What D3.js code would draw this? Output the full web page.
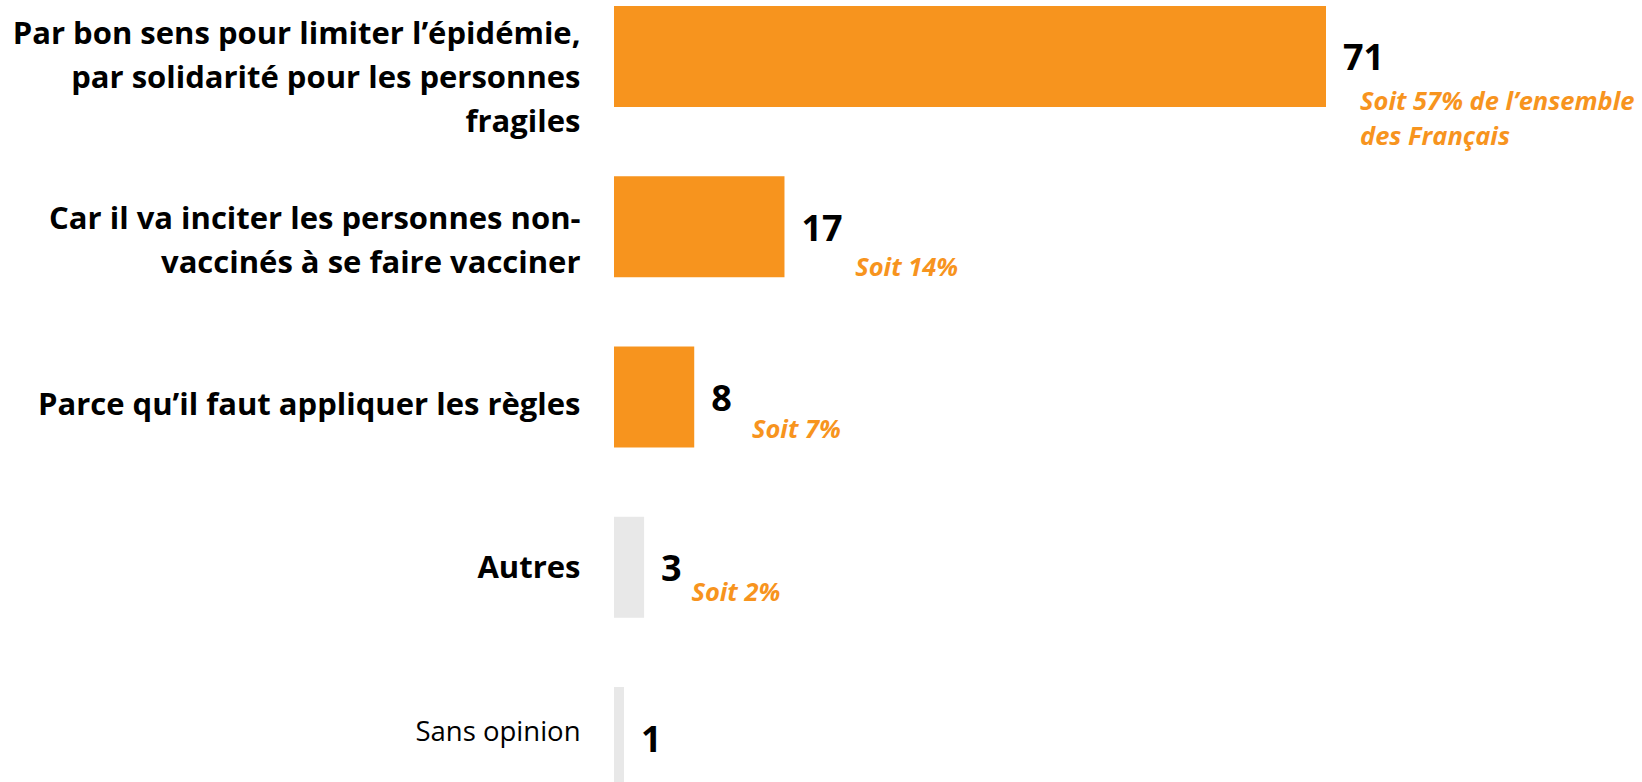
<!DOCTYPE html>
<html>
<head>
<meta charset="utf-8">
<script src="https://cdn.jsdelivr.net/npm/d3@7"></script>
<style>
  html, body { margin: 0; padding: 0; background: #ffffff; }
  svg { display: block; }
  text { font-family: "Open Sans", Lato, sans-serif; }
</style>
</head>
<body>
<div id="chart"></div>
<script>
// ---- data ----
const categories = [
  "Par bon sens pour limiter l’épidémie,\npar solidarité pour les personnes\nfragiles",
  "Car il va inciter les personnes non-\nvaccinés à se faire vacciner",
  "Parce qu’il faut appliquer les règles",
  "Autres",
  "Sans opinion"
];
const values = [71, 17, 8, 3, 1];
const notes = [
  "Soit 57% de l’ensemble\ndes Français",
  "Soit 14%",
  "Soit 7%",
  "Soit 2%",
  ""
];
const highlighted = [true, true, true, false, false];

// ---- layout / style ----
const W = 1642, H = 782;
const ORANGE = "#F7941E";
const GREY = "#E8E8E8";
const LABEL_SIZE = 31, LABEL_SIZE_REG = 27.5, LABEL_LINE = 44, LABEL_CAP = 21.5;
const VALUE_SIZE = 36;
const NOTE_SIZE = 25.5, NOTE_LINE = 35;
// note placement relative to bar end (dx) and bar centre (dy)
const noteOffsets = [[34, 53.5], [70.7, 49.2], [57.7, 41], [47.3, 33.8], [0, 0]];

const svg = d3.select("#chart").append("svg")
  .attr("width", W).attr("height", H);

svg.append("rect").attr("width", W).attr("height", H).attr("fill", "#fff");

const x = d3.scaleLinear().domain([0, 71]).range([614, 1326]);
const y = d3.scaleBand().domain(categories).range([6, 788])
  .paddingInner(0.4068).paddingOuter(0);
// category labels sit on a slightly tighter grid than the bars
const yLabel = d3.scalePoint().domain(categories).range([77.5, 730]);

const rows = categories.map((c, i) => ({
  cat: c, value: values[i], note: notes[i], hi: highlighted[i], i
}));

// bars
svg.append("g").selectAll("rect").data(rows).join("rect")
  .attr("x", x(0))
  .attr("y", d => y(d.cat))
  .attr("width", d => x(d.value) - x(0))
  .attr("height", y.bandwidth())
  .attr("fill", d => d.hi ? ORANGE : GREY);

// category labels
const last = rows.length - 1;
const lab = svg.append("g").selectAll("text").data(rows).join("text")
  .attr("text-anchor", "end")
  .attr("font-size", d => d.i === last ? LABEL_SIZE_REG : LABEL_SIZE)
  .attr("font-weight", d => d.i === last ? 400 : 700)
  .attr("fill", "#000");
lab.each(function(d) {
  const lines = d.cat.split("\n");
  const n = lines.length;
  d3.select(this).selectAll("tspan").data(lines).join("tspan")
    .attr("x", 580.5)
    .attr("y", (l, k) => yLabel(d.cat) + LABEL_CAP / 2 + (k - (n - 1) / 2) * LABEL_LINE)
    .text(l => l);
});

// value labels
svg.append("g").selectAll("text").data(rows).join("text")
  .attr("x", d => x(d.value) + 17)
  .attr("y", d => y(d.cat) + y.bandwidth() / 2 + 14)
  .attr("font-size", VALUE_SIZE)
  .attr("font-weight", 700)
  .attr("fill", "#000")
  .text(d => d.value);

// orange notes
const nt = svg.append("g").selectAll("text").data(rows.filter(d => d.note)).join("text")
  .attr("font-size", NOTE_SIZE)
  .attr("font-weight", 700)
  .attr("font-style", "italic")
  .attr("fill", ORANGE);
nt.each(function(d) {
  const [dx, dy] = noteOffsets[d.i];
  const lines = d.note.split("\n");
  d3.select(this).selectAll("tspan").data(lines).join("tspan")
    .attr("x", x(d.value) + dx)
    .attr("y", (l, k) => y(d.cat) + y.bandwidth() / 2 + dy + k * NOTE_LINE)
    .text(l => l);
});
</script>
</body>
</html>
